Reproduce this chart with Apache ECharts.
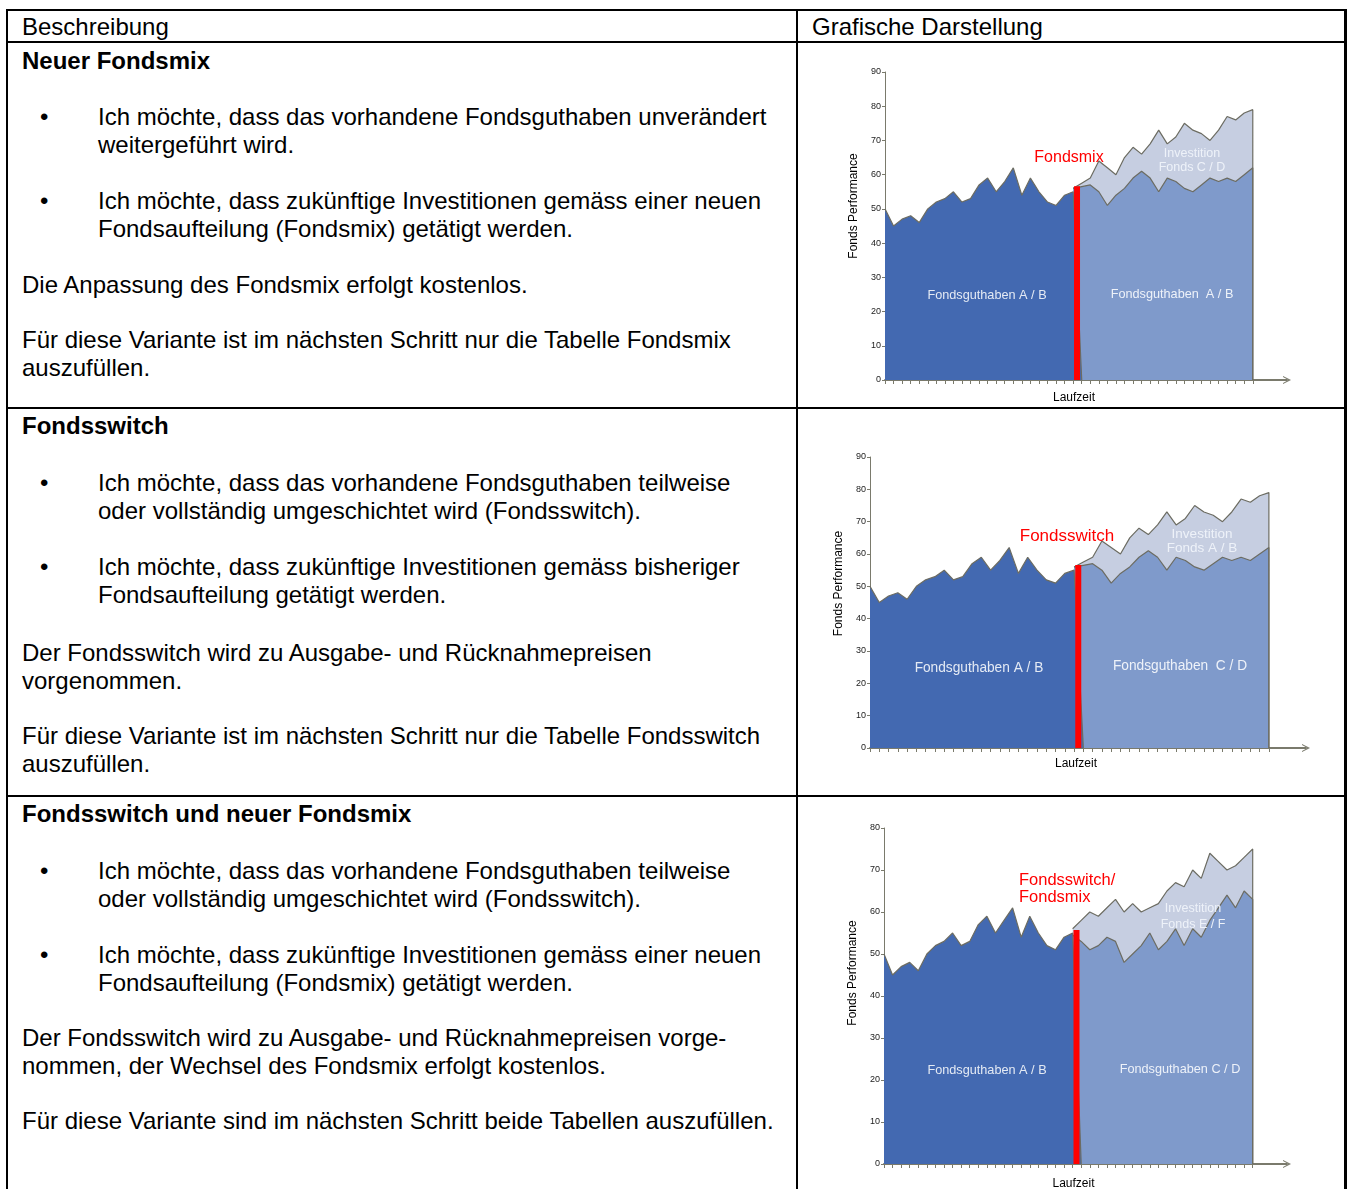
<!DOCTYPE html>
<html><head><meta charset="utf-8">
<script src="https://cdn.jsdelivr.net/npm/echarts@6/dist/echarts.min.js"></script>
<style>
html,body{margin:0;padding:0;background:#fff;}
body{width:1348px;height:1189px;position:relative;overflow:hidden;font-family:"Liberation Sans",Arial,sans-serif;color:#000;}
.ln{position:absolute;background:#000;}
.t{position:absolute;font-size:24px;line-height:28px;white-space:nowrap;}
.b{font-weight:bold;}
.bul{position:absolute;left:40px;font-size:24px;line-height:28px;}
.chart{position:absolute;left:798px;width:546px;}
</style></head><body>

<div class="ln" style="left:6px;top:9px;width:1341px;height:2px"></div>
<div class="ln" style="left:6px;top:9px;width:2px;height:1180px"></div>
<div class="ln" style="left:1344px;top:9px;width:3px;height:1180px"></div>
<div class="ln" style="left:6px;top:41px;width:1341px;height:2px"></div>
<div class="ln" style="left:796px;top:9px;width:2px;height:1180px"></div>
<div class="ln" style="left:6px;top:407px;width:1341px;height:2px"></div>
<div class="ln" style="left:6px;top:795px;width:1341px;height:2px"></div>

<div class="t" style="left:22px;top:13px">Beschreibung</div>
<div class="t" style="left:812px;top:13px">Grafische Darstellung</div>

<!-- Row 1 -->
<div class="t b" style="left:22px;top:47px">Neuer Fondsmix</div>
<div class="bul" style="top:103px">•</div>
<div class="t" style="left:98px;top:103px">Ich möchte, dass das vorhandene Fondsguthaben unverändert<br>weitergeführt wird.</div>
<div class="bul" style="top:187px">•</div>
<div class="t" style="left:98px;top:187px">Ich möchte, dass zukünftige Investitionen gemäss einer neuen<br>Fondsaufteilung (Fondsmix) getätigt werden.</div>
<div class="t" style="left:22px;top:271px">Die Anpassung des Fondsmix erfolgt kostenlos.</div>
<div class="t" style="left:22px;top:326px">Für diese Variante ist im nächsten Schritt nur die Tabelle Fondsmix<br>auszufüllen.</div>

<!-- Row 2 -->
<div class="t b" style="left:22px;top:412px">Fondsswitch</div>
<div class="bul" style="top:469px">•</div>
<div class="t" style="left:98px;top:469px">Ich möchte, dass das vorhandene Fondsguthaben teilweise<br>oder vollständig umgeschichtet wird (Fondsswitch).</div>
<div class="bul" style="top:553px">•</div>
<div class="t" style="left:98px;top:553px">Ich möchte, dass zukünftige Investitionen gemäss bisheriger<br>Fondsaufteilung getätigt werden.</div>
<div class="t" style="left:22px;top:639px">Der Fondsswitch wird zu Ausgabe- und Rücknahmepreisen<br>vorgenommen.</div>
<div class="t" style="left:22px;top:722px">Für diese Variante ist im nächsten Schritt nur die Tabelle Fondsswitch<br>auszufüllen.</div>

<!-- Row 3 -->
<div class="t b" style="left:22px;top:800px">Fondsswitch und neuer Fondsmix</div>
<div class="bul" style="top:857px">•</div>
<div class="t" style="left:98px;top:857px">Ich möchte, dass das vorhandene Fondsguthaben teilweise<br>oder vollständig umgeschichtet wird (Fondsswitch).</div>
<div class="bul" style="top:941px">•</div>
<div class="t" style="left:98px;top:941px">Ich möchte, dass zukünftige Investitionen gemäss einer neuen<br>Fondsaufteilung (Fondsmix) getätigt werden.</div>
<div class="t" style="left:22px;top:1024px">Der Fondsswitch wird zu Ausgabe- und Rücknahmepreisen vorge-<br>nommen, der Wechsel des Fondsmix erfolgt kostenlos.</div>
<div class="t" style="left:22px;top:1107px">Für diese Variante sind im nächsten Schritt beide Tabellen auszufüllen.</div>

<div id="c1" class="chart" style="top:43px;height:364px"></div>
<div id="c2" class="chart" style="top:410px;height:385px"></div>
<div id="c3" class="chart" style="top:798px;height:391px"></div>

<script>
// ---- Data ----
const BASE_12 = [50,45,47,48,46,50,52,53,55,52,53,57,59,55,58,62,54,59,55,52,51,54,55];
const MID_12  = [56,56.5,57,55,51,54,56,59,61,59,55,59,58,56,55,57,59,58,59,58,60,62];
const TOP_12  = [56,57.5,59,64,62,60,65,68,66,69,73,69,71,75,73,72,70,73,77,76,78,79];

const BASE_3 = [50,45,47,48,46,50,52,53,55,52,53,57,59,55,58,61,54,59,55,52,51,54,55];
const MID_3  = [54.5,53,51,52,54,53,48,50,52,55,51,53,56,52,56,54,58,61,64,61,65,63];
const TOP_3  = [56,58,60,59,61,63,60,62,60,61,62,65,67,66,70,68,74,72,70,71,73,75];

const SWITCH_X = 22.45;
const SWITCH_TOP = [56.6, 56.6, 55.7];
const Y_MAX = [90, 90, 80];
const Y_AXIS_NAME = 'Fonds Performance';
const X_AXIS_NAME = 'Laufzeit';

const LABELS_1 = {red:['Fondsmix'], inv:['Investition','Fonds C / D'], left:'Fondsguthaben A / B', right:'Fondsguthaben  A / B'};
const LABELS_2 = {red:['Fondsswitch'], inv:['Investition','Fonds A / B'], left:'Fondsguthaben A / B', right:'Fondsguthaben  C / D'};
const LABELS_3 = {red:['Fondsswitch/','Fondsmix'], inv:['Investition','Fonds E / F'], left:'Fondsguthaben A / B', right:'Fondsguthaben C / D'};

// ---- Styles ----
const C_DARK = '#4369b1', C_MID = '#7f9acb', C_LIGHT = '#c6cee1', C_EDGE = '#6c6c62', C_AXIS = '#7a7a6c';
const FONT = '"Liberation Sans", Arial, sans-serif';

function pairs(vals, start){ return vals.map((v,i)=>[start+i, v]); }

function build(id, base, mid, top, k, labels, lay){
  const chart = echarts.init(document.getElementById(id), null, {renderer:'canvas'});
  const sw = base.length - 1;
  const last = sw + mid.length - 1;
  const tickVals = [];
  for (let i = 0; i <= last; i++) tickVals.push(i);
  const darkData = pairs(base, 0).concat([[base.length, 0]]);
  const midData = pairs(mid, sw).concat([[last, 0]]);
  const topData = pairs(top, sw).concat([[last, 0]]);
  const areaSeries = (data, color) => ({
    type:'line', data, symbol:'none', animation:false,
    lineStyle:{color:C_EDGE, width:1.2},
    areaStyle:{color, opacity:1}
  });
  const s = lay.scale;
  const g = [];
  labels.red.forEach((t,i)=>g.push({type:'text', z:100, x:lay.red[0], y:lay.red[1]+i*lay.redLh,
    style:{text:t, fill:'#ff0000', font:lay.redSize+'px '+FONT, textAlign:lay.redAlign, textVerticalAlign:'middle'}}));
  labels.inv.forEach((t,i)=>g.push({type:'text', z:100, x:lay.inv[0], y:lay.inv[1]+i*lay.invLh,
    style:{text:t, fill:'#eef2f9', font:(12.5*s)+'px '+FONT, textAlign:'center', textVerticalAlign:'middle'}}));
  g.push({type:'text', z:100, x:lay.left[0], y:lay.left[1], style:{text:labels.left, fill:'#e4eaf4', font:(12.7*s)+'px '+FONT, textAlign:'center', textVerticalAlign:'middle'}});
  g.push({type:'text', z:100, x:lay.right[0], y:lay.right[1], style:{text:labels.right, fill:'#eef2f9', font:(12.7*s)+'px '+FONT, textAlign:'center', textVerticalAlign:'middle'}});

  chart.setOption({
    animation:false,
    grid:{left:lay.grid[0], top:lay.grid[1], right:lay.grid[2], bottom:lay.grid[3], containLabel:false, outerBoundsMode:'none'},
    xAxis:{type:'value', min:0, max:47, interval:1,
      name:X_AXIS_NAME, nameLocation:'middle', nameGap:lay.xGap,
      nameTextStyle:{fontFamily:FONT, fontSize:12, color:'#000', padding:[0,24,0,0]},
      axisLine:{lineStyle:{color:C_AXIS, width:2}, symbol:['none','path://M0,10 L5,0 L10,10 L8.6,10 L5,3.2 L1.4,10 Z'], symbolSize:[12,8], symbolOffset:[0,0]},
      axisTick:{show:true, inside:false, length:4, lineStyle:{color:C_AXIS, width:1}, customValues:tickVals},
      axisLabel:{show:false}, splitLine:{show:false}},
    yAxis:{type:'value', min:0, max:Y_MAX[k], interval:10,
      name:Y_AXIS_NAME, nameLocation:'middle', nameRotate:90, nameGap:lay.yGap,
      nameTextStyle:{fontFamily:FONT, fontSize:12, color:'#000', padding:[0,0,0,lay.nameShift]},
      axisLine:{show:true, lineStyle:{color:C_AXIS, width:1}},
      axisTick:{show:true, length:3, lineStyle:{color:C_AXIS}},
      axisLabel:{fontFamily:'"Liberation Sans Narrow", "Liberation Sans", Arial', fontSize:9, color:'#222', margin:4},
      splitLine:{show:false}},
    series:[
      areaSeries(topData, C_LIGHT),
      areaSeries(midData, C_MID),
      areaSeries(darkData, C_DARK),
      {type:'line', data:[[SWITCH_X,0],[SWITCH_X,SWITCH_TOP[k]]], symbol:'none', animation:false,
        lineStyle:{color:'#ff0000', width:6, cap:'butt'}, z:5}
    ],
    graphic:{elements:g}
  });
}

build('c1', BASE_12, MID_12, TOP_12, 0, LABELS_1, {
  grid:[87,29,57,27], xGap:12, yGap:14, nameShift:40, scale:1, redSize:16,
  red:[271,115], redLh:17, redAlign:'center', inv:[394,111], invLh:14, left:[189,252], right:[374,251]});
build('c2', BASE_12, MID_12, TOP_12, 1, LABELS_2, {
  grid:[72,47,38,47], xGap:10, yGap:20, nameShift:38, scale:1.08, redSize:17,
  red:[269,126], redLh:17, redAlign:'center', inv:[404,124], invLh:14, left:[181,258], right:[382,256]});
build('c3', BASE_3, MID_3, TOP_3, 2, LABELS_3, {
  grid:[86,30,57,25], xGap:14, yGap:14, nameShift:46, scale:1, redSize:16.5,
  red:[221,82], redLh:17, redAlign:'left', inv:[395,111], invLh:16, left:[189,272], right:[382,271]});
</script>
</body></html>
